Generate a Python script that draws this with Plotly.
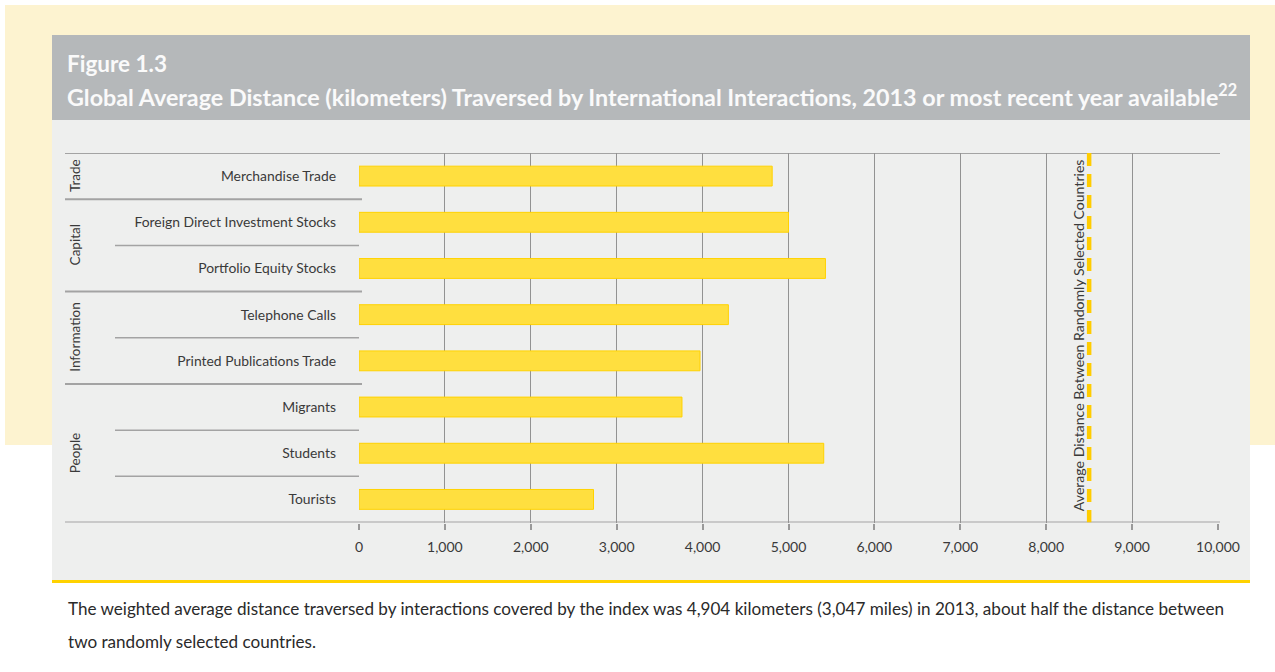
import plotly.graph_objects as go

# ---- data ----
categories = ["Merchandise Trade", "Foreign Direct Investment Stocks", "Portfolio Equity Stocks",
              "Telephone Calls", "Printed Publications Trade", "Migrants", "Students", "Tourists"]
distances_km = [4810, 5000, 5430, 4300, 3970, 3760, 5410, 2730]
groups = ["Trade", "Capital", "Information", "People"]
group_first = [0, 1, 3, 5]
group_last = [0, 2, 4, 7]
avg_random_km = 8500
avg_label = "Average Distance Between Randomly Selected Countries"
x_ticks = [0, 1000, 2000, 3000, 4000, 5000, 6000, 7000, 8000, 9000, 10000]
fig_label = "Figure 1.3"
title_text = ("Global Average Distance (kilometers) Traversed by International Interactions, "
              "2013 or most recent year available<sup>22</sup>")
caption1 = ("The weighted average distance traversed by interactions covered by the index was "
            "4,904 kilometers (3,047 miles) in 2013, about half the distance between")
caption2 = "two randomly selected countries."

W, H = 1275, 672
def px(x):
    return x / W
def py(y):
    return 1 - y / H

FONT = "Lato"
TXT = "#3a3a3a"

fig = go.Figure()
fig.add_trace(go.Bar(
    x=distances_km, y=categories, orientation="h", width=0.43,
    marker=dict(color="#ffdf3f", line=dict(color="#ffd200", width=1)),
    hoverinfo="x+y", showlegend=False,
))

shapes = []
# background blocks
shapes.append(dict(type="rect", xref="paper", yref="paper", x0=px(5), x1=px(1275), y0=py(5), y1=py(445),
                   fillcolor="#fdf3d0", line=dict(width=0), layer="below"))
shapes.append(dict(type="rect", xref="paper", yref="paper", x0=px(52), x1=px(1250), y0=py(35), y1=py(120),
                   fillcolor="#b5b8ba", line=dict(width=0), layer="below"))
shapes.append(dict(type="rect", xref="paper", yref="paper", x0=px(52), x1=px(1250), y0=py(120), y1=py(580),
                   fillcolor="#eeefee", line=dict(width=0), layer="below"))
shapes.append(dict(type="line", xref="paper", yref="paper", x0=px(52), x1=px(1250), y0=py(581.5), y1=py(581.5),
                   line=dict(color="#ffd200", width=3), layer="below"))

n = len(categories)
# top and bottom frame lines
for yv in (-0.5, n - 0.5):
    shapes.append(dict(type="line", xref="paper", yref="y", x0=px(65), x1=px(1220), y0=yv, y1=yv,
                       line=dict(color="#a3a3a3", width=2), layer="below"))
# group separators
for g in group_first[1:]:
    shapes.append(dict(type="line", xref="paper", yref="y", x0=px(65), x1=px(362), y0=g - 0.5, y1=g - 0.5,
                       line=dict(color="#a3a3a3", width=2), layer="below"))
# sub-category separators
for i in range(1, n):
    if i not in group_first:
        shapes.append(dict(type="line", xref="paper", yref="y", x0=px(115), x1=px(359), y0=i - 0.5, y1=i - 0.5,
                           line=dict(color="#a3a3a3", width=1.5), layer="below"))
# reference dashed line
shapes.append(dict(type="line", xref="x", yref="y", x0=avg_random_km, x1=avg_random_km, y0=-0.5, y1=n - 0.5,
                   line=dict(color="#ffcc00", width=4.5, dash="13px,8px"), layer="above"))

annotations = []
annotations.append(dict(xref="paper", yref="paper", x=px(65), y=py(63), xanchor="left", yanchor="middle",
                        text=fig_label, showarrow=False,
                        font=dict(family=FONT, size=22.5, color="#fafafa", weight="bold")))
annotations.append(dict(xref="paper", yref="paper", x=px(65), y=py(96), xanchor="left", yanchor="middle",
                        text=title_text, showarrow=False,
                        font=dict(family=FONT, size=23.3, color="#fafafa", weight="bold")))
for gname, a, b in zip(groups, group_first, group_last):
    annotations.append(dict(xref="paper", yref="y", x=px(75), y=(a + b) / 2, xanchor="center", yanchor="middle",
                            text=gname, textangle=-90, showarrow=False,
                            font=dict(family=FONT, size=13.5, color=TXT)))
annotations.append(dict(xref="x", yref="paper", x=avg_random_km, xshift=-11, y=py(335),
                        xanchor="center", yanchor="middle", text=avg_label, textangle=-90, showarrow=False,
                        font=dict(family=FONT, size=14.1, color=TXT)))
annotations.append(dict(xref="paper", yref="paper", x=px(66), y=py(608), xanchor="left", yanchor="middle",
                        text=caption1, showarrow=False, font=dict(family=FONT, size=17.1, color="#2a2a2a")))
annotations.append(dict(xref="paper", yref="paper", x=px(66), y=py(641), xanchor="left", yanchor="middle",
                        text=caption2, showarrow=False, font=dict(family=FONT, size=17.1, color="#2a2a2a")))

fig.update_layout(
    width=W, height=H, autosize=False,
    margin=dict(l=0, r=0, t=0, b=0, autoexpand=False),
    paper_bgcolor="white", plot_bgcolor="rgba(0,0,0,0)",
    shapes=shapes, annotations=annotations,
    bargap=0.5,
    xaxis=dict(domain=[px(359), px(1218)], range=[0, 10000], tickvals=x_ticks, tickformat=",",
               automargin=False,
               showgrid=True, gridcolor="#929292", gridwidth=1.3, zeroline=False,
               showline=False, ticks="outside", ticklen=6, tickwidth=1.5, tickcolor="#999999",
               ticklabelstandoff=6, tickfont=dict(family=FONT, size=14, color=TXT), fixedrange=True),
    yaxis=dict(domain=[py(522.5), py(153)], range=[n - 0.5, -0.5], type="category",
               automargin=False,
               showgrid=False, zeroline=False, showline=False, ticks="",
               ticklabelstandoff=22, tickfont=dict(family=FONT, size=13.9, color=TXT), fixedrange=True),
    font=dict(family=FONT),
)

fig.write_html("out.html")
